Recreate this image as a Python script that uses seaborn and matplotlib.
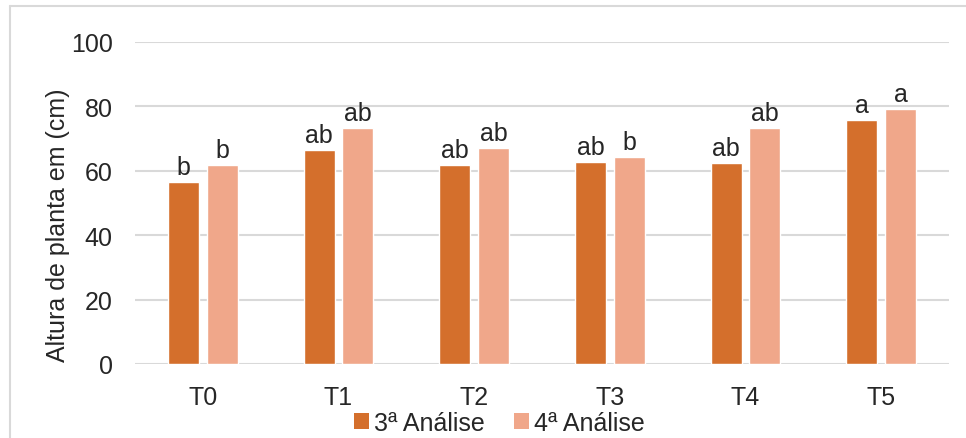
import pandas as pd
import seaborn as sns
import matplotlib.pyplot as plt
from matplotlib.patches import Patch
from matplotlib.lines import Line2D

# dados
tratamentos = ['T0', 'T1', 'T2', 'T3', 'T4', 'T5']
analise_3 = [56.5, 66.4, 61.7, 62.7, 62.4, 75.7]
analise_4 = [61.7, 73.2, 67.0, 64.2, 73.2, 79.1]
letras_3 = ['b', 'ab', 'ab', 'ab', 'ab', 'a']
letras_4 = ['b', 'ab', 'ab', 'b', 'ab', 'a']
series = ['3ª Análise', '4ª Análise']

df = pd.DataFrame({
    'trat': tratamentos * 2,
    'altura': analise_3 + analise_4,
    'analise': [series[0]] * 6 + [series[1]] * 6,
})

cores = ['#D46F2C', '#F0A78A']
cinza = '#D9D9D9'

sns.set_style('white')
plt.rcParams['font.family'] = ['Liberation Sans', 'DejaVu Sans']

fig = plt.figure(figsize=(9.66, 4.39), dpi=100)
ax = fig.add_axes([135 / 966, 1 - 365 / 439, (949 - 135) / 966, (365 - 42.7) / 439])

sns.barplot(data=df, x='trat', y='altura', hue='analise', palette=cores,
            width=0.57, gap=0.2, ax=ax, legend=False, saturation=1)

# letras acima das barras
for cont, letras in zip(ax.containers, [letras_3, letras_4]):
    ax.bar_label(cont, labels=letras, padding=2, fontsize=18)

ax.set_ylim(0, 100)
ax.set_xlim(-0.5, 5.5)
ax.set_yticks(range(0, 101, 20))
ax.yaxis.grid(True, color=cinza, linewidth=1.5)
ax.set_axisbelow(True)
for s in ax.spines.values():
    s.set_visible(False)
ax.tick_params(axis='both', length=0, labelsize=18)
ax.tick_params(axis='x', pad=15)
ax.tick_params(axis='y', pad=16)
ax.set_xlabel('')
ax.set_ylabel('Altura de planta em (cm)', fontsize=18)
ax.yaxis.set_label_coords(-0.080, 0.434)

handles = [Patch(facecolor=c, edgecolor='none') for c in cores]
fig.legend(handles, series, loc='center', bbox_to_anchor=(0.517, 0.034), ncol=2,
           frameon=False, fontsize=18, handlelength=0.6, handleheight=0.6,
           handletextpad=0.2, columnspacing=1.2, borderpad=0)

# moldura do gráfico
fig.add_artist(Line2D([10 / 966, 10 / 966], [0, 1 - 7 / 439], color=cinza, linewidth=1.5))
fig.add_artist(Line2D([10 / 966, 1], [1 - 7 / 439, 1 - 7 / 439], color=cinza, linewidth=1.5))

fig.savefig('out.png', dpi=100)
